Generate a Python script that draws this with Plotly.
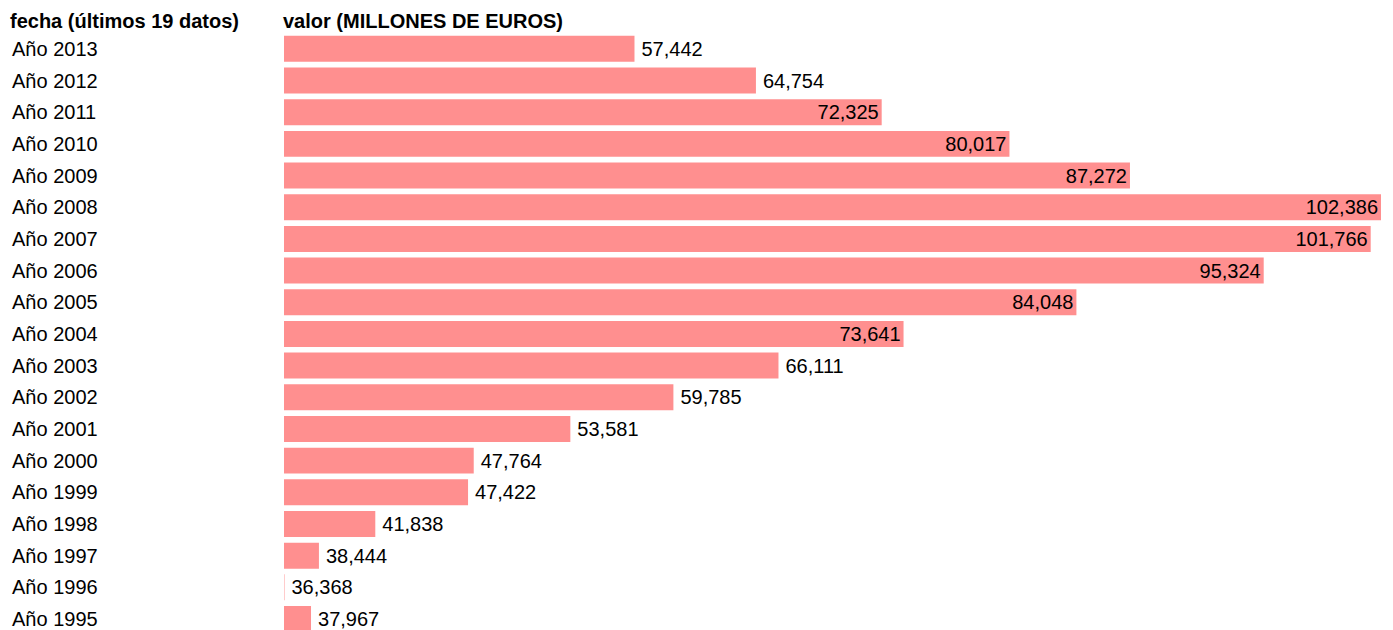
import plotly.graph_objects as go

categories = ["Año 2013", "Año 2012", "Año 2011", "Año 2010", "Año 2009", "Año 2008",
              "Año 2007", "Año 2006", "Año 2005", "Año 2004", "Año 2003", "Año 2002",
              "Año 2001", "Año 2000", "Año 1999", "Año 1998", "Año 1997", "Año 1996",
              "Año 1995"]
values = [57442, 64754, 72325, 80017, 87272, 102386, 101766, 95324, 84048, 73641,
          66111, 59785, 53581, 47764, 47422, 41838, 38444, 36368, 37967]
header_left = "fecha (últimos 19 datos)"
header_right = "valor (MILLONES DE EUROS)"

FONT = "Liberation Sans, Arial, sans-serif"
positions = ["inside" if v > 70000 else "outside" for v in values]
templates = ["%{x:,}" if p == "inside" else "\u2009%{x:,}" for p in positions]

# page body adds an 8px offset; compensate
OFF = 8
W, H = 1393 - OFF, 630 - OFF
left_px = 284 - OFF
right_px = 12
plot_w = W - left_px - right_px

fig = go.Figure(go.Bar(
    x=values, y=categories, orientation="h",
    marker=dict(color="#FF8F8F", line=dict(width=0)),
    texttemplate=templates, textposition=positions,
    insidetextanchor="end",
    textfont=dict(family=FONT, size=20, color="black"),
    insidetextfont=dict(family=FONT, size=20, color="black"),
    outsidetextfont=dict(family=FONT, size=20, color="black"),
    cliponaxis=False,
    hoverinfo="skip",
))

annotations = []
for c in categories:
    annotations.append(dict(
        text=c, x=(10 - OFF - left_px) / plot_w, xref="paper", xanchor="left",
        y=c, yref="y", yanchor="middle", showarrow=False,
        font=dict(family=FONT, size=20, color="black")))
annotations.append(dict(
    text="<b>" + header_left + "</b>", x=(9 - OFF - left_px) / plot_w, xref="paper", xanchor="left",
    y=1, yref="paper", yanchor="bottom", showarrow=False, borderpad=0,
    font=dict(family=FONT, size=20, color="black")))
annotations.append(dict(
    text="<b>" + header_right + "</b>", x=(282 - OFF - left_px) / plot_w, xref="paper", xanchor="left",
    y=1, yref="paper", yanchor="bottom", showarrow=False, borderpad=0,
    font=dict(family=FONT, size=20, color="black")))

fig.update_layout(
    width=W, height=H,
    margin=dict(l=left_px, r=right_px, t=33 - OFF, b=0),
    paper_bgcolor="white", plot_bgcolor="white",
    bargap=0.18,
    showlegend=False,
    uniformtext=dict(minsize=20, mode="show"),
    font=dict(family=FONT, size=20, color="black"),
    xaxis=dict(range=[36341, 102386], visible=False, fixedrange=True),
    yaxis=dict(categoryorder="array", categoryarray=categories,
               range=[18.347, -0.5], showticklabels=False, showgrid=False,
               zeroline=False, showline=False, ticks="", fixedrange=True),
    annotations=annotations,
)

fig.write_html("out.html", config={"displayModeBar": False})
